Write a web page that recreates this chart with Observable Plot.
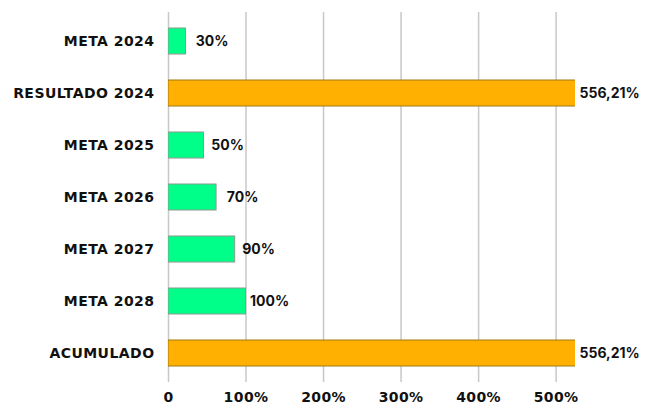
<!DOCTYPE html>
<html>
<head>
<meta charset="utf-8">
<script src="https://cdn.jsdelivr.net/npm/d3@7"></script>
<script src="https://cdn.jsdelivr.net/npm/@observablehq/plot@0.6"></script>
<style>
  html, body { margin: 0; padding: 0; background: #fff; }
  #chart svg { display: block; }
  g[aria-label="y-axis tick label"] text { letter-spacing: 0.45px; }
  g[aria-label="x-axis tick label"] text { letter-spacing: 0.4px; }
</style>
</head>
<body>
<div id="chart"></div>
<script>
const categories = ["META 2024", "RESULTADO 2024", "META 2025", "META 2026", "META 2027", "META 2028", "ACUMULADO"];
const values = [30, 556.21, 50, 70, 90, 100, 556.21];           // label values (%)
const barLengths = [22.6, 556.21, 45.8, 62, 86, 100, 556.21];   // drawn bar lengths (%)
const valueLabels = ["30%", "556,21%", "50%", "70%", "90%", "100%", "556,21%"];
const kinds = ["meta", "resultado", "meta", "meta", "meta", "meta", "resultado"];
const xTicks = [0, 100, 200, 300, 400, 500];
const xMax = 525;

const data = categories.map((c, i) => ({
  cat: c, value: values[i], len: barLengths[i], label: valueLabels[i], kind: kinds[i]
}));

const fill = {meta: "#00ff88", resultado: "#ffb000"};
const stroke = {meta: "#8a9a90", resultado: "#a07a10"};

const chart = Plot.plot({
  width: 651,
  height: 407,
  marginTop: 12,
  marginBottom: 25,
  marginLeft: 168,
  marginRight: 76,
  style: {fontFamily: "'DejaVu Sans', sans-serif", fontSize: "14px", fontWeight: 700, color: "#111"},
  x: {domain: [0, xMax], ticks: xTicks, tickFormat: d => d === 0 ? "0" : d + "%"},
  y: {domain: categories, paddingInner: 0.5, paddingOuter: 0.25},
  marks: [
    Plot.gridX(xTicks, {stroke: "#c8c8c8", strokeOpacity: 1, strokeWidth: 1.5}),
    Plot.barX(data, {
      x: "len", y: "cat", clip: true,
      fill: d => fill[d.kind], stroke: d => stroke[d.kind], strokeWidth: 1
    }),
    Plot.text(data, {
      x: d => Math.min(d.value, xMax), y: "cat", text: "label",
      textAnchor: "start", dx: 4, fill: "#111", fontSize: 14, fontWeight: 700,
      fontFamily: "Inter, 'DejaVu Sans', sans-serif"
    }),
    Plot.axisY({tickSize: 0, tickPadding: 14, label: null, fontSize: 14, fontWeight: 700}),
    Plot.axisX({tickSize: 0, tickPadding: 10, label: null, ticks: xTicks, tickFormat: d => d === 0 ? "0" : d + "%", fontSize: 14, fontWeight: 700})
  ]
});
document.getElementById("chart").appendChild(chart);
</script>
</body>
</html>
